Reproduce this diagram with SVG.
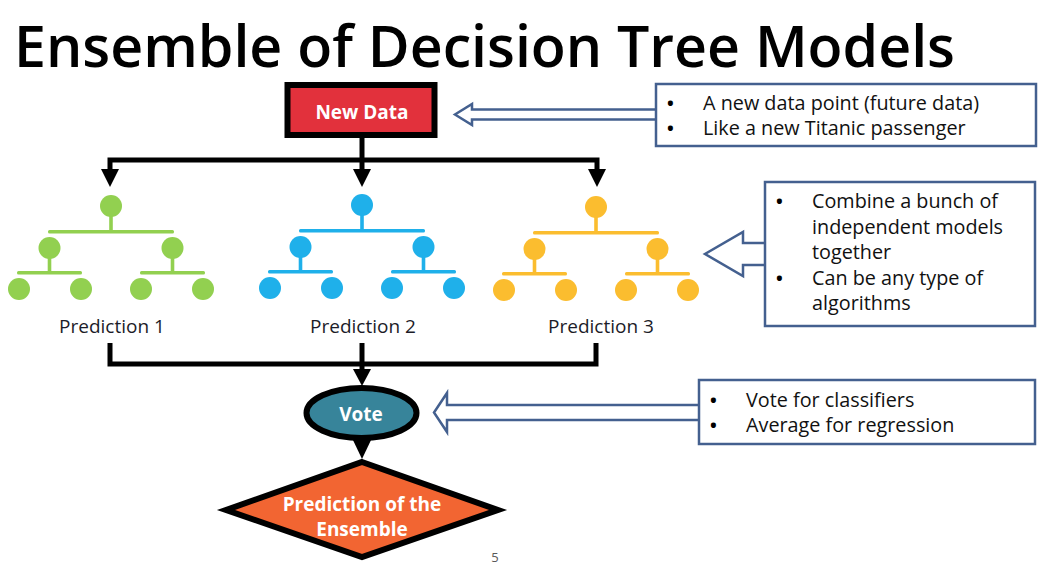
<svg xmlns="http://www.w3.org/2000/svg" xmlns:xlink="http://www.w3.org/1999/xlink" width="1044" height="576" viewBox="0 0 1044 576">
<style>
.title{font-family:"Open Sans","Noto Sans",sans-serif;font-size:58px;font-weight:600;fill:#000}
.lbl{font-family:"Open Sans","Noto Sans",sans-serif;font-size:19px;fill:#1c1c28}
.wb{font-family:"Open Sans","Noto Sans",sans-serif;font-size:19px;font-weight:700;fill:#fff;text-anchor:middle}
.call{font-family:"Open Sans","Noto Sans",sans-serif;font-size:19.8px;fill:#111}
.bul{font-family:"Open Sans","Noto Sans",sans-serif;font-size:18px;font-weight:700;fill:#000}
.box{fill:#fff;stroke:#44608f;stroke-width:2.5}
.barrow{fill:#fff;stroke:#44608f;stroke-width:2.5;stroke-linejoin:miter}
.conn{fill:none;stroke:#000;stroke-width:5;stroke-linejoin:miter}
.head{fill:#000}
</style>
<defs>
<g id="tree">
<rect x="-1.8" y="0" width="3.6" height="26" fill="currentColor"/>
<rect x="-63" y="24" width="126" height="3.6" rx="1.5" fill="currentColor"/>
<rect x="-63.3" y="42" width="3.6" height="25" fill="currentColor"/>
<rect x="59.7" y="42" width="3.6" height="25" fill="currentColor"/>
<rect x="-94" y="65" width="65" height="3.6" rx="1.5" fill="currentColor"/>
<rect x="29" y="65" width="65" height="3.6" rx="1.5" fill="currentColor"/>
<circle cx="0" cy="0" r="11" fill="currentColor"/>
<circle cx="-61.5" cy="42" r="11" fill="currentColor"/>
<circle cx="61.5" cy="42" r="11" fill="currentColor"/>
<circle cx="-92" cy="83" r="11" fill="currentColor"/>
<circle cx="-30" cy="83" r="11" fill="currentColor"/>
<circle cx="30" cy="83" r="11" fill="currentColor"/>
<circle cx="92" cy="83" r="11" fill="currentColor"/>
</g>
</defs>
<rect width="1044" height="576" fill="#fff"/>
<text class="title" x="14" y="67" textLength="941" lengthAdjust="spacingAndGlyphs">Ensemble of Decision Tree Models</text>

<g id="connectors">
<path class="conn" d="M362,138 L362,172"/>
<path class="conn" d="M110,172 L110,160 L597,160 L597,172"/>
<polygon class="head" points="101,169 119,169 110,187"/>
<polygon class="head" points="353,169 371,169 362,187"/>
<polygon class="head" points="588,169 606,169 597,187"/>
<path class="conn" d="M110,343 L110,364 L596,364 L596,343"/>
<path class="conn" d="M362,343 L362,372"/>
<polygon class="head" points="353,369 371,369 362,386"/>
<polygon class="head" points="352,438 372,438 362,459"/>
</g>

<g id="new-data">
<rect x="287.5" y="85" width="147" height="50" fill="#e2313c" stroke="#000" stroke-width="6"/>
<text class="wb" x="362" y="119">New Data</text>
</g>

<g id="tree-1" style="color:#92d050"><use xlink:href="#tree" x="111" y="206"/></g>
<g id="tree-2" style="color:#1fb0ea"><use xlink:href="#tree" x="362" y="205"/></g>
<g id="tree-3" style="color:#fbbd2f"><use xlink:href="#tree" x="596" y="207"/></g>

<g id="prediction-labels">
<text class="lbl" x="112" y="333" text-anchor="middle">Prediction 1</text>
<text class="lbl" x="363" y="333" text-anchor="middle">Prediction 2</text>
<text class="lbl" x="601" y="333" text-anchor="middle">Prediction 3</text>
</g>

<g id="vote">
<ellipse cx="361.5" cy="413" rx="55" ry="25" fill="#37849a" stroke="#000" stroke-width="6"/>
<text class="wb" x="361" y="421">Vote</text>
</g>

<g id="ensemble">
<polygon points="362,462 498,510 362,557 226,510" fill="#f26532" stroke="#000" stroke-width="6" stroke-linejoin="miter"/>
<text class="wb" x="362" y="511">Prediction of the</text>
<text class="wb" x="362" y="536">Ensemble</text>
</g>

<g id="callout-1">
<path class="barrow" d="M657,109.5 L472,109.5 L472,104 L455,114.5 L472,125 L472,119.5 L657,119.5"/>
<rect class="box" x="656" y="84" width="380" height="62"/>
<text class="bul" x="667" y="110">•</text>
<text class="call" x="703" y="110">A new data point (future data)</text>
<text class="bul" x="667" y="135">•</text>
<text class="call" x="703" y="135">Like a new Titanic passenger</text>
</g>

<g id="callout-2">
<path class="barrow" d="M766,243 L743,243 L743,232 L705,254 L743,276 L743,265 L766,265"/>
<rect class="box" x="765" y="182" width="270" height="144"/>
<text class="bul" x="776" y="208">•</text>
<text class="call" x="812" y="208">Combine a bunch of</text>
<text class="call" x="812" y="234">independent models</text>
<text class="call" x="812" y="259">together</text>
<text class="bul" x="776" y="285">•</text>
<text class="call" x="812" y="285">Can be any type of</text>
<text class="call" x="812" y="310">algorithms</text>
</g>

<g id="callout-3">
<path class="barrow" d="M700,405 L447,405 L447,393 L434,412.5 L447,432 L447,420 L700,420"/>
<rect class="box" x="699" y="380" width="336" height="64"/>
<text class="bul" x="710" y="407">•</text>
<text class="call" x="746" y="407">Vote for classifiers</text>
<text class="bul" x="710" y="432">•</text>
<text class="call" x="746" y="432">Average for regression</text>
</g>

<text x="495" y="562" font-family="'Open Sans','Noto Sans',sans-serif" font-size="13" fill="#595959" text-anchor="middle">5</text>
</svg>
